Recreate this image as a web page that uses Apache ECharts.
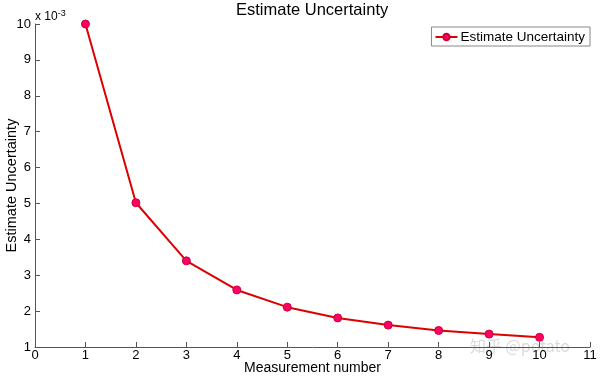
<!DOCTYPE html>
<html>
<head>
<meta charset="utf-8">
<script src="https://cdn.jsdelivr.net/npm/echarts@6/dist/echarts.min.js"></script>
<style>
  html, body { margin: 0; padding: 0; background: #fff; }
  #chart { width: 600px; height: 377px; }
</style>
</head>
<body>
<div id="chart"></div>
<script>
// values in units of 1e-3
var measurements = [1, 2, 3, 4, 5, 6, 7, 8, 9, 10];
var uncertainty = [10.0, 5.02, 3.40, 2.59, 2.11, 1.81, 1.61, 1.46, 1.36, 1.27];
var yTicks = [1, 2, 3, 4, 5, 6, 7, 8, 9, 10];
var xTicks = [0, 1, 2, 3, 4, 5, 6, 7, 8, 9, 10, 11];

var chart = echarts.init(document.getElementById('chart'));
var font = 'Liberation Sans, Arial, sans-serif';

var pts = measurements.map(function (m, i) { return [m, uncertainty[i]]; });

chart.setOption({
  animation: false,
  textStyle: { fontFamily: font },
  title: {
    text: 'Estimate Uncertainty',
    left: 236, top: 2, padding: 0,
    textStyle: { fontFamily: font, fontSize: 16.5, fontWeight: 'normal', color: '#000' }
  },
  legend: {
    right: 10, top: 27,
    itemWidth: 22, itemHeight: 8, itemGap: 4,
    padding: [3, 5, 2, 3],
    borderColor: '#888', borderWidth: 1,
    textStyle: { fontFamily: font, fontSize: 13.5, color: '#000', padding: [0, 0, 0, -2] },
    data: ['Estimate Uncertainty']
  },
  grid: { left: 35, right: 10, top: 24, bottom: 30, containLabel: false, outerBoundsMode: 'none' },
  xAxis: {
    type: 'value',
    min: xTicks[0], max: xTicks[xTicks.length - 1], interval: 1,
    name: 'Measurement number', nameLocation: 'middle', nameGap: 14, nameMoveOverlap: false,
    nameTextStyle: { fontFamily: font, fontSize: 14, color: '#000' },
    axisLine: { lineStyle: { color: '#555', width: 1 } },
    axisTick: { inside: true, length: 5, lineStyle: { color: '#555' } },
    axisLabel: { color: '#000', fontSize: 13, margin: 2 },
    splitLine: { show: false }
  },
  yAxis: {
    type: 'value',
    min: yTicks[0], max: yTicks[yTicks.length - 1], interval: 1,
    name: 'Estimate Uncertainty', nameLocation: 'middle', nameGap: 16, nameMoveOverlap: false,
    nameTextStyle: { fontFamily: font, fontSize: 14.5, color: '#000' },
    axisLine: { show: true, lineStyle: { color: '#555', width: 1 } },
    axisTick: { show: true, inside: true, length: 5, lineStyle: { color: '#555' } },
    axisLabel: { color: '#000', fontSize: 13, margin: 4 },
    splitLine: { show: false }
  },
  graphic: [
    {
      type: 'text', left: 35, top: 9,
      style: {
        text: 'x 10{s|-3}',
        rich: { s: { fontSize: 9, verticalAlign: 'top', padding: [0, 0, 6, 0], fill: '#000', fontFamily: font } },
        fontSize: 12, fill: '#000', fontFamily: font
      }
    },
    {
      type: 'text', left: 470, top: 338,
      style: { text: '知乎 @potato', fontSize: 16, fill: 'rgba(150,150,150,0.35)', fontFamily: 'Noto Sans CJK SC, sans-serif' }
    }
  ],
  series: [{
    name: 'Estimate Uncertainty',
    type: 'line',
    data: pts,
    symbol: 'circle',
    symbolSize: 8,
    lineStyle: { color: '#dd0000', width: 2 },
    itemStyle: { color: '#ff0066', borderColor: '#cc0033', borderWidth: 1 }
  }]
});
</script>
</body>
</html>
